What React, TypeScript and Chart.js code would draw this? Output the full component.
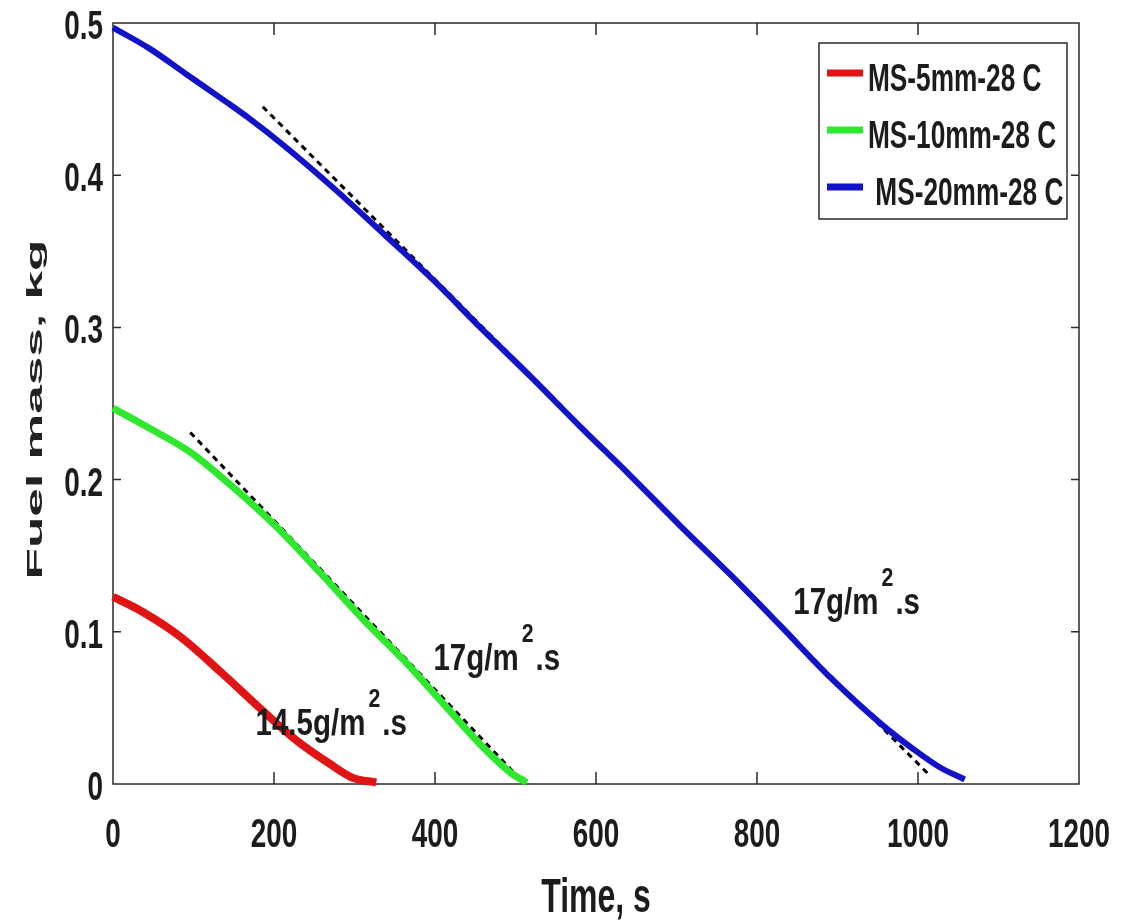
import React, { useEffect, useRef } from 'react';
import { Chart, registerables } from 'chart.js';

Chart.register(...registerables);

// ---------- data ----------
const redTime = [0, 37, 83, 133, 178, 227, 270, 298, 327];
const redMass = [0.123, 0.113, 0.097, 0.074, 0.052, 0.029, 0.013, 0.004, 0.001];

const greenTime = [0, 41, 96, 149, 203, 257, 311, 360, 410, 460, 495, 514];
const greenMass = [0.247, 0.235, 0.218, 0.195, 0.169, 0.139, 0.108, 0.082, 0.053, 0.024, 0.007, 0.001];

const blueTime = [0, 46, 92, 141, 170, 211, 273, 335, 398, 460, 522, 580, 642, 704, 766, 829, 891, 953, 994, 1027, 1058];
const blueMass = [0.497, 0.483, 0.466, 0.448, 0.437, 0.42, 0.392, 0.362, 0.331, 0.298, 0.266, 0.235, 0.203, 0.17, 0.138, 0.104, 0.07, 0.04, 0.023, 0.011, 0.003];

const greenFitTime = [96, 499];
const greenFitMass = [0.231, 0.007];
const blueFitTime = [186, 1012];
const blueFitMass = [0.445, 0.007];

const seriesLabels = ['MS-5mm-28 C', 'MS-10mm-28 C', ' MS-20mm-28 C'];
const seriesColors = ['#e01414', '#2ee82e', '#1212c8'];

const xMin = 0, xMax = 1200, xStep = 200;
const yMin = 0, yMax = 0.5, yStep = 0.1;

const xTitle = 'Time, s';
const yTitle = 'Fuel mass, kg';

// rate annotations: anchor in data units (time, mass) of the text's left baseline
const rateNotes = [
  { t: 177, m: 0.032, main: '14.5g/m', sup: '2', tail: '.s' },
  { t: 398, m: 0.075, main: '17g/m', sup: '2', tail: '.s' },
  { t: 845, m: 0.112, main: '17g/m', sup: '2', tail: '.s' },
];

const FACE = '"Liberation Sans", Arial, Helvetica, sans-serif';
const INK = '#1c1c1c';
const SX = 0.82; // narrow face emulation
const SY = 1.22; // vertical stretch of the reference picture

const toXY = (ts: number[], ms: number[]) => ts.map((t, i) => ({ x: t, y: ms[i] }));

function drawText(ctx: CanvasRenderingContext2D, text: string, x: number, y: number, size: number, sx: number, sy: number, align: CanvasTextAlign = 'left') {
  ctx.save();
  ctx.translate(x, y);
  ctx.scale(sx, sy);
  ctx.font = `bold ${size}px ${FACE}`;
  ctx.textAlign = align;
  ctx.textBaseline = 'alphabetic';
  ctx.fillText(text, 0, 0);
  ctx.restore();
}

function textWidth(ctx: CanvasRenderingContext2D, text: string, size: number, sx: number) {
  ctx.save();
  ctx.font = `bold ${size}px ${FACE}`;
  const w = ctx.measureText(text).width * sx;
  ctx.restore();
  return w;
}

const decorPlugin = {
  id: 'matlabDecor',
  beforeDatasetsDraw(chart: any) {
    const { ctx, chartArea: a, scales } = chart;
    ctx.save();
    ctx.strokeStyle = '#2a2a2a';
    ctx.lineWidth = 1.5;
    ctx.strokeRect(a.left, a.top, a.right - a.left, a.bottom - a.top);
    ctx.beginPath();
    scales.x.ticks.forEach((tk: any) => {
      const px = scales.x.getPixelForValue(tk.value);
      if (px <= a.left + 1 || px >= a.right - 1) return;
      ctx.moveTo(px, a.bottom); ctx.lineTo(px, a.bottom - 12);
      ctx.moveTo(px, a.top); ctx.lineTo(px, a.top + 12);
    });
    scales.y.ticks.forEach((tk: any) => {
      const py = scales.y.getPixelForValue(tk.value);
      if (py <= a.top + 1 || py >= a.bottom - 1) return;
      ctx.moveTo(a.left, py); ctx.lineTo(a.left + 8, py);
      ctx.moveTo(a.right, py); ctx.lineTo(a.right - 8, py);
    });
    ctx.stroke();

    // tick labels (narrow bold face, drawn at the library's tick positions)
    ctx.fillStyle = INK;
    scales.x.ticks.forEach((tk: any) => {
      const px = scales.x.getPixelForValue(tk.value);
      drawText(ctx, String(tk.value), px, a.bottom + 63, 34, SX, SY, 'center');
    });
    scales.y.ticks.forEach((tk: any) => {
      const py = scales.y.getPixelForValue(tk.value);
      drawText(ctx, String(Number(Number(tk.value).toFixed(1))), a.left - 10, py + 16, 34, SX, SY, 'right');
    });

    // x-axis title
    drawText(ctx, xTitle, (a.left + a.right) / 2, a.bottom + 128, 39, SX, SY, 'center');

    // y-axis title (stretched along its length like the reference)
    ctx.fillStyle = '#222';
    const yFont = `bold 22px ${FACE}`;
    ctx.font = yFont;
    const tw = ctx.measureText(yTitle).width;
    const target = 340;
    ctx.save();
    ctx.translate(36, (a.top + a.bottom) / 2 + 6);
    ctx.rotate(-Math.PI / 2);
    ctx.scale(target / tw, 1);
    ctx.font = yFont;
    ctx.textAlign = 'center';
    ctx.textBaseline = 'middle';
    ctx.fillText(yTitle, 0, 0);
    ctx.restore();
    ctx.restore();
  },
  afterDatasetsDraw(chart: any) {
    const { ctx, chartArea: a, scales } = chart;
    ctx.save();
    ctx.fillStyle = INK;

    // rate annotations
    rateNotes.forEach((n) => {
      const x = scales.x.getPixelForValue(n.t);
      const y = scales.y.getPixelForValue(n.m);
      const w1 = textWidth(ctx, n.main, 36, SX);
      drawText(ctx, n.main, x, y, 36, SX, 1.05);
      const w2 = textWidth(ctx, n.sup, 26, SX);
      drawText(ctx, n.sup, x + w1 + 3, y - 28, 26, SX, 1.0);
      drawText(ctx, n.tail, x + w1 + w2 + 5, y, 36, SX, 1.05);
    });

    // legend box
    const lw = 248, lh = 176;
    const lx = a.right - 12 - lw, ly = a.top + 20;
    ctx.fillStyle = '#ffffff';
    ctx.fillRect(lx, ly, lw, lh);
    ctx.strokeStyle = '#2a2a2a';
    ctx.lineWidth = 1.5;
    ctx.strokeRect(lx, ly, lw, lh);
    const entries = chart.data.datasets.filter((d: any) => !d.isFit);
    entries.forEach((d: any, i: number) => {
      const cy = ly + 30 + i * 57;
      ctx.strokeStyle = d.borderColor;
      ctx.lineWidth = 7;
      ctx.beginPath();
      ctx.moveTo(lx + 8, cy);
      ctx.lineTo(lx + 44, cy);
      ctx.stroke();
      ctx.fillStyle = INK;
      drawText(ctx, d.label, lx + 49, cy + 18, 32, SX, SY);
    });
    ctx.restore();
  },
};

export default function App() {
  const ref = useRef<HTMLCanvasElement | null>(null);

  useEffect(() => {
    if (!ref.current) return;
    const line = (label: string, ts: number[], ms: number[], color: string, width: number) => ({
      label,
      data: toXY(ts, ms),
      borderColor: color,
      backgroundColor: color,
      borderWidth: width,
      pointRadius: 0,
      cubicInterpolationMode: 'monotone' as const,
      fill: false,
      clip: 12,
      isFit: false,
    });
    const fit = (ts: number[], ms: number[]) => ({
      label: 'fit',
      data: toXY(ts, ms),
      borderColor: '#000000',
      borderWidth: 3,
      borderDash: [6, 5],
      pointRadius: 0,
      fill: false,
      clip: 12,
      isFit: true,
    });

    const chart = new Chart(ref.current, {
      type: 'line',
      data: {
        datasets: [
          line(seriesLabels[0], redTime, redMass, seriesColors[0], 8),
          line(seriesLabels[1], greenTime, greenMass, seriesColors[1], 7),
          line(seriesLabels[2], blueTime, blueMass, seriesColors[2], 6),
          fit(greenFitTime, greenFitMass) as any,
          fit(blueFitTime, blueFitMass) as any,
        ],
      },
      options: {
        animation: false,
        responsive: false,
        layout: { padding: { top: 23, right: 66, left: 0, bottom: 0 } },
        plugins: {
          legend: { display: false },
          tooltip: { enabled: false },
        },
        scales: {
          x: {
            type: 'linear',
            min: xMin,
            max: xMax,
            grid: { display: false, drawTicks: false },
            border: { display: false },
            ticks: { stepSize: xStep, display: false },
            title: { display: false, text: xTitle },
            afterFit: (s: any) => { s.height = 140; },
          },
          y: {
            type: 'linear',
            min: yMin,
            max: yMax,
            grid: { display: false, drawTicks: false },
            border: { display: false },
            ticks: { stepSize: yStep, display: false },
            title: { display: false, text: yTitle },
            afterFit: (s: any) => { s.width = 113; },
          },
        },
      },
      plugins: [decorPlugin],
    });
    return () => chart.destroy();
  }, []);

  return (
    <div style={{ position: 'absolute', left: 0, top: 0, width: 1145, height: 924, background: '#fff' }}>
      <canvas ref={ref} width={1145} height={924} style={{ display: 'block' }} />
    </div>
  );
}
